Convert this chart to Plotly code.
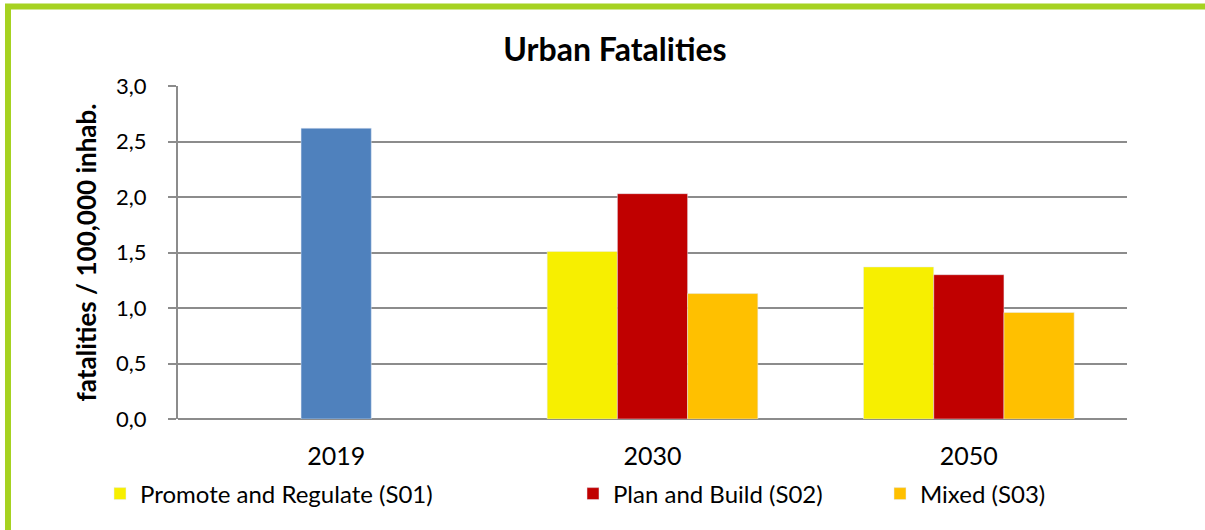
import plotly.graph_objects as go

categories = ["2019", "2030", "2050"]
base_values = [2.62, None, None]
s01_values = [None, 1.51, 1.37]
s02_values = [None, 2.03, 1.30]
s03_values = [None, 1.13, 0.96]
y_ticks = [0.0, 0.5, 1.0, 1.5, 2.0, 2.5, 3.0]

W, H = 1205, 530
L, R, T, B = 178, 78, 86, 111
pw, ph = W - L - R, H - T - B

def px_x(p):
    return (p - L) / pw

def px_y(p):
    return (H - B - p) / ph

FONT = "Lato"
bw = 0.222

fig = go.Figure()
fig.add_bar(x=categories, y=base_values, name="2019", marker_color="#4F81BD",
            width=bw, offset=-bw / 2, showlegend=False)
fig.add_bar(x=categories, y=s01_values, name="Promote and Regulate (S01)",
            marker_color="#F7EF00", width=bw, offset=-1.5 * bw, legend="legend")
fig.add_bar(x=categories, y=s02_values, name="Plan and Build (S02)",
            marker_color="#C00000", width=bw, offset=-0.5 * bw, legend="legend2")
fig.add_bar(x=categories, y=s03_values, name="Mixed (S03)",
            marker_color="#FFC000", width=bw, offset=0.5 * bw, legend="legend3")

leg_common = dict(orientation="h", yanchor="middle", xanchor="left",
                  font=dict(family=FONT, size=24, color="#000000"),
                  bgcolor="rgba(0,0,0,0)", itemwidth=30, tracegroupgap=0)

fig.update_layout(
    width=W, height=H,
    margin=dict(l=L, r=R, t=T, b=B),
    plot_bgcolor="white", paper_bgcolor="white",
    separators=",.",
    barmode="overlay",
    hovermode=False,
    title=dict(text="<b>Urban Fatalities</b>", x=615 / W, xref="container", xanchor="center",
               y=1 - 50 / H, yanchor="middle",
               font=dict(family=FONT, size=32, color="#000000")),
    xaxis=dict(type="category", showgrid=False, showline=False, ticks="",
               tickfont=dict(family=FONT, size=25, color="#000000"), ticklabelstandoff=20),
    yaxis=dict(range=[0, 3.0], tickvals=y_ticks, tickformat=".1f",
               showgrid=True, gridcolor="#8C8C8C", gridwidth=2,
               showline=True, linecolor="#8C8C8C", linewidth=2,
               ticks="outside", ticklen=8, tickcolor="#8C8C8C", tickwidth=2,
               tickfont=dict(family=FONT, size=22, color="#000000"), ticklabelstandoff=17,
               zeroline=True, zerolinecolor="#8C8C8C", zerolinewidth=2,
               title=dict(text="<b>fatalities / 100,000 inhab.</b>", standoff=12,
                          font=dict(family=FONT, size=26, color="#000000"))),
    legend=dict(x=px_x(100), y=px_y(494), **leg_common),
    legend2=dict(x=px_x(573), y=px_y(494), **leg_common),
    legend3=dict(x=px_x(880), y=px_y(494), **leg_common),
    shapes=[dict(type="rect", xref="paper", yref="paper",
                 x0=px_x(8), x1=px_x(1220), y0=px_y(545), y1=px_y(6.5),
                 line=dict(color="#A6D221", width=6), fillcolor="rgba(0,0,0,0)", layer="below")],
)

fig.write_html("out.html", config={"displayModeBar": False},
               post_script="document.body.style.margin='0';")
